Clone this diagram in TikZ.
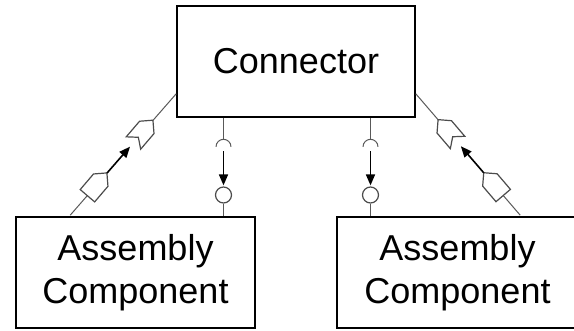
\documentclass[tikz,border=0pt]{standalone}
\usepackage{fontspec}
\setmainfont{Liberation Sans}
\usetikzlibrary{arrows.meta,calc}
\tikzset{
  box/.style={draw=black,line width=1.6pt,fill=white,inner sep=0pt,align=center,font=\fontsize{36}{43}\selectfont},
  wire/.style={draw=black!65,line width=1pt},
  iface/.style={draw=black!70,line width=1.2pt,fill=white,line join=miter},
  flow/.style={draw=black,line width=1.6pt,-{Triangle[length=11pt,width=9pt]}},
  provided/.pic={\path[iface] (-15pt,-9.5pt) -- (5.5pt,-9.5pt) -- (15pt,0pt) -- (5.5pt,9.5pt) -- (-15pt,9.5pt) -- cycle;},
  required/.pic={\path[iface] (-15pt,-9.5pt) -- (5.5pt,-9.5pt) -- (15pt,0pt) -- (5.5pt,9.5pt) -- (-15pt,9.5pt) -- (-7.5pt,0pt) -- cycle;},
  ball/.style={circle,draw=black!70,line width=1.2pt,fill=white,minimum size=16pt,inner sep=0pt},
}
\begin{document}
\begin{tikzpicture}[x=1pt,y=-1pt]
\useasboundingbox (0,0) rectangle (574,330);
\clip (0,0) rectangle (574,330);
\node[box,minimum width=238pt,minimum height=111pt] (conn) at (296,61.5) {Connector};
\node[box,minimum width=239pt,minimum height=111pt] (asmL) at (135.5,272.5) {Assembly\\Component};
\node[box,minimum width=241pt,minimum height=111pt] (asmR) at (457.5,272.5) {Assembly\\Component};
% left diagonal
\coordinate (LA) at ($(conn.south west)+(0,-24)$);
\coordinate (LB) at ($(asmL.north west)+(55,-1)$);
\draw[wire] (LB) -- ($(LB)!26pt!(LA)$);
\pic[rotate=49.5] at ($(LB)!41pt!(LA)$) {provided};
\draw[flow] ($(LB)!56pt!(LA)$) -- ($(LB)!91pt!(LA)$);
\pic[rotate=49.5] at ($(LB)!111pt!(LA)$) {required};
\draw[wire] ($(LB)!126pt!(LA)$) -- (LA);
% right diagonal
\coordinate (RA) at ($(conn.south east)+(0,-24)$);
\coordinate (RB) at ($(asmR.north west)+(184,-1)$);
\draw[wire] (RB) -- ($(RB)!26pt!(RA)$);
\pic[rotate=130.5] at ($(RB)!41pt!(RA)$) {provided};
\draw[flow] ($(RB)!56pt!(RA)$) -- ($(RB)!91pt!(RA)$);
\pic[rotate=130.5] at ($(RB)!111pt!(RA)$) {required};
\draw[wire] ($(RB)!126pt!(RA)$) -- (RA);
% left middle
\node[ball] (ballL) at (223.5,195) {};
\draw[wire] (ballL.south) -- (ballL.south |- asmL.north);
\draw[wire] (ballL |- conn.south) -- ++(0,21.5) coordinate (sockL);
\draw[wire] (sockL) ++(-7.5,7.5) arc[start angle=180,end angle=0,radius=7.5pt];
\draw[flow,shorten >=1pt] ($(sockL)+(0,12)$) -- (ballL.north);
% right middle
\node[ball] (ballR) at (370.5,195) {};
\draw[wire] (ballR.south) -- (ballR.south |- asmR.north);
\draw[wire] (ballR |- conn.south) -- ++(0,21.5) coordinate (sockR);
\draw[wire] (sockR) ++(-7.5,7.5) arc[start angle=180,end angle=0,radius=7.5pt];
\draw[flow,shorten >=1pt] ($(sockR)+(0,12)$) -- (ballR.north);
\end{tikzpicture}
\end{document}
